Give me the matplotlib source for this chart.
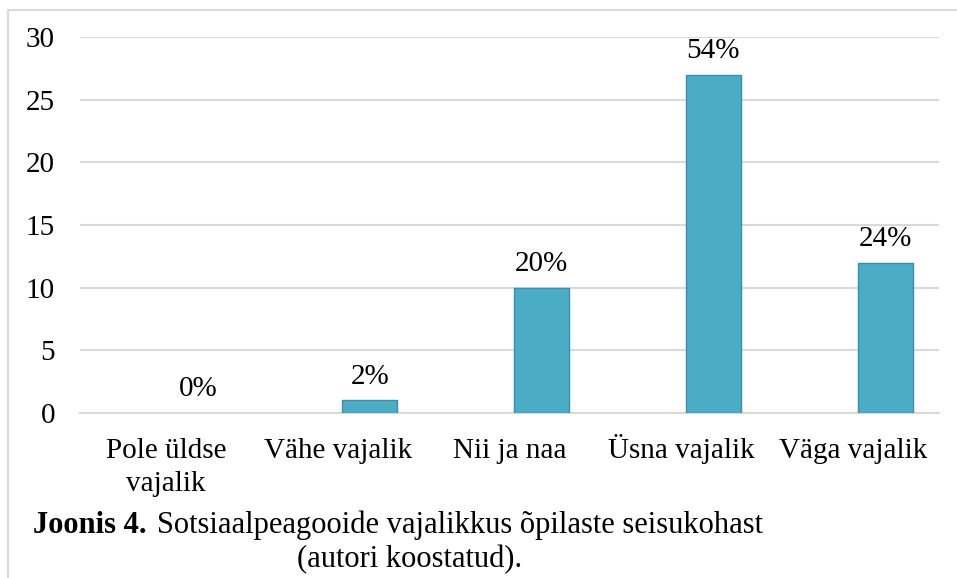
import numpy as np
import matplotlib
matplotlib.use("Agg")
import matplotlib.pyplot as plt
from matplotlib.lines import Line2D

# data
categories = ["Pole üldse\nvajalik", "Vähe vajalik", "Nii ja naa", "Üsna vajalik", "Väga vajalik"]
counts = [0, 1, 10, 27, 12]
percent_labels = ["0%", "2%", "20%", "54%", "24%"]
y_ticks = [0, 5, 10, 15, 20, 25, 30]

W, H = 957, 578
plt.rcParams['font.family'] = ['Liberation Serif', 'DejaVu Serif']

fig = plt.figure(figsize=(W / 100, H / 100), dpi=100)

# axes placed in pixel terms of the reference
left, right, top, bottom = 80, 939, 37, 413
ax = fig.add_axes([left / W, 1 - bottom / H, (right - left) / W, (bottom - top) / H])

x = np.arange(len(categories))
offset = 0.186
bars = ax.bar(x + offset, counts, width=0.32, color='#4BACC6',
              edgecolor='#3A8FA8', linewidth=1.0, zorder=3)
for b, val in zip(bars, counts):
    if val == 0:
        b.set_edgecolor('none')

for xi, val, lab in zip(x, counts, percent_labels):
    ax.annotate(lab, (xi + offset, val), xytext=(0, 17), textcoords='offset points',
                ha='center', va='center', fontsize=21)

ax.set_xlim(-0.5, len(categories) - 0.5)
ax.set_ylim(0, 30)
ax.set_yticks(y_ticks)
ax.set_xticks(x)
ax.set_xticklabels([])
ax.tick_params(axis='y', labelsize=21, length=0, pad=18)
ax.tick_params(axis='x', length=0)

# category labels, each line on a common baseline
for xi, cat in zip(x, categories):
    for i, line in enumerate(cat.split('\n')):
        ax.annotate(line, (xi, 0), xytext=(0, -32.5 - 23.8 * i), textcoords='offset points',
                    ha='center', va='baseline', fontsize=21, annotation_clip=False)

ax.grid(axis='y', color='#D9D9D9', linewidth=1.5, zorder=0)
for s in ['top', 'right', 'left']:
    ax.spines[s].set_visible(False)
ax.spines['bottom'].set_color('#D9D9D9')
ax.spines['bottom'].set_linewidth(1.5)

# caption
fig.text(33 / W, 1 - 533 / H, "Joonis 4.", fontsize=22, fontweight='bold', va='baseline')
fig.text(157 / W, 1 - 533 / H, "Sotsiaalpeagooide vajalikkus õpilaste seisukohast",
         fontsize=22, va='baseline')
fig.text(297 / W, 1 - 567 / H, "(autori koostatud).", fontsize=22, va='baseline')

# outer frame (cut off at the right and bottom as in the reference)
fig.add_artist(Line2D([8 / W, 8 / W], [1 - 10 / H, 0], transform=fig.transFigure,
                      color='#D9D9D9', linewidth=1.5))
fig.add_artist(Line2D([8 / W, 1], [1 - 10 / H, 1 - 10 / H], transform=fig.transFigure,
                      color='#D9D9D9', linewidth=1.5))

fig.savefig('out.png', dpi=100)
